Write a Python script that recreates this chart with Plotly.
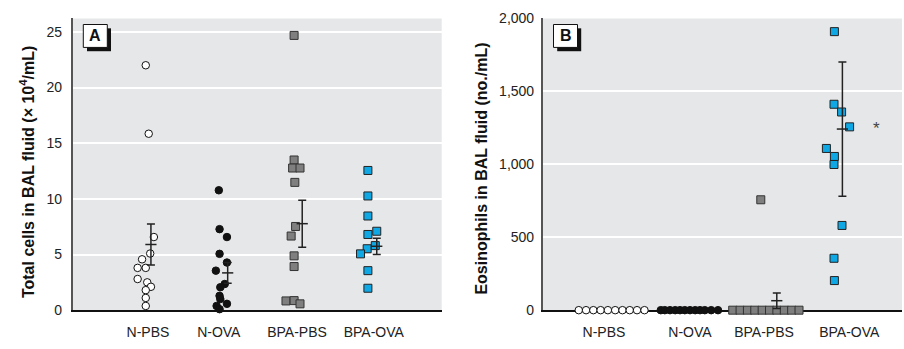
import plotly.graph_objects as go

# ---------------- data ----------------
groups = ["N-PBS", "N-OVA", "BPA-PBS", "BPA-OVA"]

# Panel A: total cells in BAL fluid (x10^4/mL)
a_npbs = [22.0, 15.85, 6.57, 5.09, 4.57, 3.8, 3.8, 2.8, 2.5, 2.1, 1.8, 1.1, 0.38]
a_npbs_dx = [-0.01, 0.03, 0.10, 0.05, -0.06, -0.12, -0.01, -0.12, 0.01, 0.06, -0.01, -0.01, -0.01]
a_nova = [10.77, 7.28, 6.57, 5.06, 4.28, 3.55, 2.35, 2.06, 1.29, 1.0, 0.57, 0.38, 0.09]
a_nova_dx = [-0.02, -0.01, 0.09, -0.01, 0.09, -0.06, 0.06, 0.0, -0.01, 0.0, 0.09, -0.05, -0.01]
a_bpapbs = [24.68, 13.49, 12.77, 12.77, 11.48, 7.52, 6.66, 4.88, 3.92, 0.83, 0.86, 0.57]
a_bpapbs_dx = [0.0, 0.0, -0.02, 0.08, 0.01, 0.02, -0.04, 0.0, 0.0, -0.11, 0.0, 0.08]
a_bpaova = [12.55, 10.26, 8.46, 6.8, 7.09, 5.52, 5.8, 5.06, 3.55, 1.97]
a_bpaova_dx = [0.0, 0.0, 0.0, 0.0, 0.12, -0.01, 0.10, -0.10, 0.0, 0.0]
a_mean = [5.9, 3.35, 7.77, 5.74]
a_sem = [1.85, 0.94, 2.11, 0.73]
a_err_dx = [0.06, 0.10, 0.11, 0.12]

# Panel B: eosinophils in BAL fluid (no./mL)
b_npbs = [0, 0, 0, 0, 0, 0, 0, 0, 0, 0]
b_npbs_dx = [-0.415, -0.324, -0.233, -0.142, -0.051, 0.040, 0.131, 0.222, 0.313, 0.406]
b_nova = [0, 0, 0, 0, 0, 0, 0, 0, 0, 0, 0, 0]
b_nova_dx = [-0.39, -0.34, -0.275, -0.21, -0.15, -0.09, -0.025, 0.04, 0.10, 0.16, 0.24, 0.325]
b_bpapbs = [0, 0, 0, 0, 0, 0, 0, 0, 0, 0, 757]
b_bpapbs_dx = [-0.491, -0.399, -0.307, -0.215, -0.123, -0.031, 0.061, 0.154, 0.246, 0.338, -0.14]
b_bpaova = [1910, 1412, 1359, 1257, 1109, 1054, 999, 581, 356, 203]
b_bpaova_dx = [-0.22, -0.225, -0.13, -0.03, -0.32, -0.22, -0.225, -0.125, -0.225, -0.22]
b_mean = [None, None, 65, 1242]
b_sem = [None, None, 53, 460]
b_err_dx = [0.0, 0.0, 0.06, -0.12]

centers = [1, 2, 3, 4]

# ---------------- styles ----------------
FONT = "Liberation Sans, Arial, sans-serif"
W, H = 904, 349
styles = [
    dict(symbol="circle", size=7.5, color="white", line=dict(color="#111", width=1)),
    dict(symbol="circle", size=7.5, color="#111", line=dict(color="#111", width=1)),
    dict(symbol="square", size=8, color="#7f7f7f", line=dict(color="#333", width=1)),
    dict(symbol="square", size=8, color="#0fa8e4", line=dict(color="#222", width=1)),
]

fig = go.Figure()

def add_group(vals, dxs, c, style, xa, ya):
    fig.add_trace(go.Scatter(
        x=[c + d for d in dxs], y=vals, mode="markers", marker=style,
        xaxis=xa, yaxis=ya, cliponaxis=False, showlegend=False, hoverinfo="y"))

def add_err(means, sems, dxs, xa, ya):
    xs, ys, es = [], [], []
    for c, m, s, d in zip(centers, means, sems, dxs):
        if m is None:
            continue
        xs.append(c + d); ys.append(m); es.append(s)
    fig.add_trace(go.Scatter(
        x=xs, y=ys, mode="markers",
        marker=dict(symbol="line-ew", size=8, color="#222", line=dict(color="#222", width=1.5)),
        error_y=dict(type="data", array=es, visible=True, color="#222", thickness=1.5, width=4),
        xaxis=xa, yaxis=ya, cliponaxis=False, showlegend=False, hoverinfo="y"))

add_group(a_npbs, a_npbs_dx, centers[0], styles[0], "x", "y")
add_group(a_nova, a_nova_dx, centers[1], styles[1], "x", "y")
add_group(a_bpapbs, a_bpapbs_dx, centers[2], styles[2], "x", "y")
add_group(a_bpaova, a_bpaova_dx, centers[3], styles[3], "x", "y")
add_err(a_mean, a_sem, a_err_dx, "x", "y")

add_group(b_npbs, b_npbs_dx, centers[0], styles[0], "x2", "y2")
add_group(b_nova, b_nova_dx, centers[1], styles[1], "x2", "y2")
add_group(b_bpapbs, b_bpapbs_dx, centers[2], styles[2], "x2", "y2")
add_group(b_bpaova, b_bpaova_dx, centers[3], styles[3], "x2", "y2")
add_err(b_mean, b_sem, b_err_dx, "x2", "y2")

ydom = [1 - 316.7 / H, 1 - 11 / H]
xa_common = dict(showgrid=False, zeroline=False, showline=True, linecolor="#111", linewidth=1.5,
                 ticks="", tickfont=dict(family=FONT, size=14, color="#222"), layer="below traces",
                 ticklabelstandoff=8, fixedrange=True)
ya_common = dict(showgrid=True, gridcolor="white", gridwidth=1.5, zeroline=False, showline=True,
                 linecolor="#555", linewidth=1.5, ticks="", layer="below traces",
                 tickfont=dict(family=FONT, size=14, color="#222"), fixedrange=True)

fig.update_layout(
    width=W, height=H, margin=dict(l=0, r=0, t=0, b=0),
    paper_bgcolor="white", plot_bgcolor="#e6e7e8",
    xaxis=dict(domain=[72.7 / W, 441.7 / W], range=[0.0, 5.0],
               tickvals=[1.02, 1.98, 3.04, 4.08], ticktext=groups, anchor="y", **xa_common),
    yaxis=dict(domain=ydom, range=[0, 26.2], tickvals=[0, 5, 10, 15, 20, 25], anchor="x",
               ticklabelstandoff=6, **ya_common),
    xaxis2=dict(domain=[542.7 / W, 902 / W], range=[0.134, 4.625],
                tickvals=[0.9, 1.975, 2.9, 3.966], ticktext=groups, anchor="y2", **xa_common),
    yaxis2=dict(domain=ydom, range=[0, 2000], tickvals=[0, 500, 1000, 1500, 2000],
                tickformat=",d", anchor="x2", ticklabelstandoff=4, **ya_common),
)

# axis titles
fig.add_annotation(x=26.5 / W, y=1 - 172.5 / H, xref="paper", yref="paper",
                   text="<b>Total cells in BAL fluid (× 10<sup>4</sup>/mL)</b>", textangle=-90,
                   showarrow=False, xanchor="center", yanchor="middle",
                   font=dict(family=FONT, size=16, color="#111"))
fig.add_annotation(x=482 / W, y=1 - 168.3 / H, xref="paper", yref="paper",
                   text="<b>Eosinophils in BAL fluid (no./mL)</b>", textangle=-90,
                   showarrow=False, xanchor="center", yanchor="middle",
                   font=dict(family=FONT, size=16, color="#111"))

# asterisk
fig.add_annotation(x=4.31, y=1248, xref="x2", yref="y2", text="*", showarrow=False,
                   font=dict(family=FONT, size=17, color="#444"),
                   xanchor="center", yanchor="middle")

# panel letter boxes
for letter, bx in (("A", 83.3), ("B", 553.5)):
    fig.add_shape(type="rect", xref="paper", yref="paper",
                  x0=(bx + 3.7) / W, x1=(bx + 27.7) / W, y0=1 - 45.3 / H, y1=1 - 21.3 / H,
                  fillcolor="#111", line=dict(width=0), layer="above")
    fig.add_shape(type="rect", xref="paper", yref="paper",
                  x0=bx / W, x1=(bx + 24) / W, y0=1 - 41.3 / H, y1=1 - 17.3 / H,
                  fillcolor="white", line=dict(color="#111", width=1), layer="above")
    fig.add_annotation(x=(bx + 12) / W, y=1 - 29.3 / H, xref="paper", yref="paper",
                       text="<b>" + letter + "</b>", showarrow=False,
                       xanchor="center", yanchor="middle",
                       font=dict(family=FONT, size=16, color="#111"))

fig.write_html("out.html", config={"displayModeBar": False},
               post_script="document.body.style.margin='0';document.body.style.overflow='hidden';")
